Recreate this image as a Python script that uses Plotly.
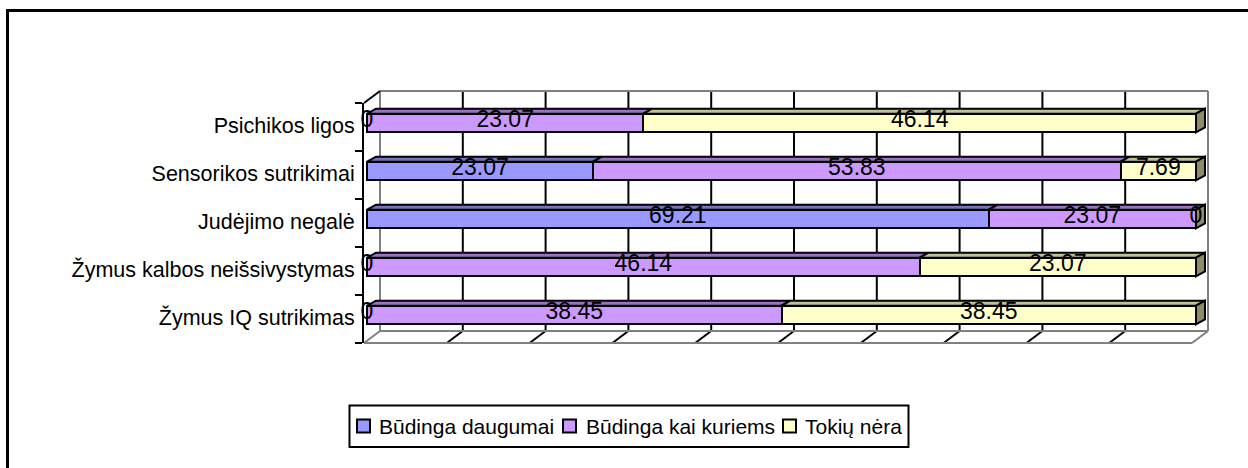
"""
Stacked 100% bar chart with a hand-made 3D look (walls, floor, bar tops)
"""

import numpy as np
import plotly.graph_objects as go

categories = [
    "Žymus IQ sutrikimas",
    "Žymus kalbos neišsivystymas",
    "Judėjimo negalė",
    "Sensorikos sutrikimai",
    "Psichikos ligos",
]
series_names = ["Būdinga daugumai", "Būdinga kai kuriems", "Tokių nėra"]
daugumai = [0, 0, 69.21, 23.07, 0]
kai_kuriems = [38.45, 46.14, 23.07, 53.83, 23.07]
nera = [38.45, 23.07, 0, 7.69, 46.14]
axis_ticks = [0, 10, 20, 30, 40, 50, 60, 70, 80, 90, 100]

front_colors = ["#9999FF", "#CC99FF", "#FFFFCC"]
top_colors = ["#7373BF", "#9973BF", "#BFBF99"]
side_color = "#8C8C66"
wall_color = "#808080"
FONT = "Liberation Sans"

# plot area in page pixels
LEFT, RIGHT, TOP, BOTTOM = 364, 1215, 103, 343
ROW_PX = (BOTTOM - TOP) / len(categories)
UNIT_PX = 8.29  # pixels per percent
BAR_ZERO_PX = 367
BAR_SHIFT = 4 / ROW_PX  # bars sit a little above the row centre
BAR_WIDTH = 0.39
DEPTH_X = 9 / UNIT_PX
DEPTH_Y = 5 / ROW_PX
LABEL_SHIFT = 2 / ROW_PX


def paper_x(px):
    return (px - LEFT) / (RIGHT - LEFT)


def paper_y(px):
    return (BOTTOM - px) / (BOTTOM - TOP)


def line(x0, y0, x1, y1, color, width=2):
    return dict(
        type="line",
        xref="paper",
        yref="paper",
        x0=paper_x(x0),
        y0=paper_y(y0),
        x1=paper_x(x1),
        y1=paper_y(y1),
        line=dict(color=color, width=width),
        layer="below",
    )


def rect(x0, y0, x1, y1, fill, width=2):
    return dict(
        type="rect",
        xref="paper",
        yref="paper",
        x0=paper_x(x0),
        y0=paper_y(y0),
        x1=paper_x(x1),
        y1=paper_y(y1),
        fillcolor=fill,
        line=dict(color="black", width=width),
        layer="below",
    )


values = np.array([daugumai, kai_kuriems, nera])
shares = values / values.sum(axis=0) * 100
starts = np.vstack([np.zeros(len(categories)), np.cumsum(shares, axis=0)[:-1]])
ends = starts + shares

fig = go.Figure()

for name, vals, color in zip(series_names, values, front_colors):
    fig.add_trace(
        go.Bar(
            y=categories,
            x=vals,
            orientation="h",
            name=name,
            width=BAR_WIDTH,
            offset=-BAR_WIDTH / 2 + BAR_SHIFT,
            marker=dict(color=color, line=dict(color="black", width=2)),
            showlegend=False,
        )
    )

# bar tops and end caps, on a numeric axis laid over the category one
for s, top_color in enumerate(top_colors):
    for row in range(len(categories)):
        if shares[s, row] == 0:
            continue
        x0, x1 = starts[s, row], ends[s, row]
        y_top = row + BAR_SHIFT + BAR_WIDTH / 2
        fig.add_trace(
            go.Scatter(
                x=[x0, x1, x1 + DEPTH_X, x0 + DEPTH_X, x0],
                y=[y_top, y_top, y_top + DEPTH_Y, y_top + DEPTH_Y, y_top],
                yaxis="y2",
                mode="lines",
                fill="toself",
                fillcolor=top_color,
                line=dict(color="black", width=2),
                showlegend=False,
                hoverinfo="skip",
                cliponaxis=False,
            )
        )

for row in range(len(categories)):
    y_top = row + BAR_SHIFT + BAR_WIDTH / 2
    y_low = y_top - BAR_WIDTH
    fig.add_trace(
        go.Scatter(
            x=[100, 100 + DEPTH_X, 100 + DEPTH_X, 100, 100],
            y=[y_top, y_top + DEPTH_Y, y_low + DEPTH_Y, y_low, y_top],
            yaxis="y2",
            mode="lines",
            fill="toself",
            fillcolor=side_color,
            line=dict(color="black", width=2),
            showlegend=False,
            hoverinfo="skip",
            cliponaxis=False,
        )
    )

# value labels centred on each segment, zeros included
for s in range(len(series_names)):
    fig.add_trace(
        go.Scatter(
            x=(starts[s] + ends[s]) / 2,
            y=np.arange(len(categories)) + BAR_SHIFT + LABEL_SHIFT,
            yaxis="y2",
            mode="text",
            text=[f"{v:g}" for v in values[s]],
            textposition="middle center",
            textfont=dict(family=FONT, size=23, color="black"),
            showlegend=False,
            hoverinfo="skip",
            cliponaxis=False,
        )
    )

# back wall, floor and side wall
BACK_L, BACK_R, BACK_T, BACK_B = 380, 1208, 91, 331
FRONT_R = 1192
shapes = []
for t in axis_ticks[1:-1]:
    back = BACK_L + t / 100 * (BACK_R - BACK_L)
    front = LEFT + t / 100 * (FRONT_R - LEFT)
    shapes.append(line(back, BACK_T, back, BACK_B, "black"))
    shapes.append(line(back, BACK_B, front, BOTTOM, "black"))
shapes += [
    line(BACK_L, BACK_T, BACK_R, BACK_T, wall_color),
    line(BACK_L, BACK_T, BACK_L, BACK_B, wall_color),
    line(BACK_R, BACK_T, BACK_R, BACK_B, wall_color),
    line(BACK_L, BACK_B, BACK_R, BACK_B, wall_color),
    line(LEFT, BOTTOM, FRONT_R, BOTTOM, wall_color),
    line(FRONT_R, BOTTOM, BACK_R, BACK_B, wall_color),
    line(LEFT, BOTTOM, BACK_L, BACK_B, wall_color),
    line(LEFT, TOP, BACK_L, BACK_T, "black"),
]
# frame of the picture runs off the right and bottom edges
shapes.append(rect(7.5, 480, 1260, 10.5, "rgba(0,0,0,0)", width=3))

# legend box, laid out by hand to get the tight spacing
LEGEND_Y = 426
legend_swatch_x = [357, 563, 783]
legend_text_x = [378, 585, 804]
shapes.append(rect(349.5, 405.5, 908.5, 447, "white"))
annotations = []
for name, color, sx, tx in zip(series_names, front_colors, legend_swatch_x, legend_text_x):
    shapes.append(rect(sx, LEGEND_Y - 6.5, sx + 13, LEGEND_Y + 6.5, color))
    annotations.append(
        dict(
            xref="paper",
            yref="paper",
            x=paper_x(tx),
            y=paper_y(LEGEND_Y),
            text=name,
            showarrow=False,
            xanchor="left",
            yanchor="middle",
            font=dict(family=FONT, size=21, color="black"),
            borderpad=0,
        )
    )

y_range = [-0.5, len(categories) - 0.5]
fig.update_layout(
    width=1248,
    height=468,
    autosize=False,
    margin=dict(l=LEFT, r=1248 - RIGHT, t=TOP, b=468 - BOTTOM, autoexpand=False),
    paper_bgcolor="white",
    plot_bgcolor="rgba(0,0,0,0)",
    barmode="stack",
    barnorm="percent",
    showlegend=False,
    hovermode=False,
    font=dict(family=FONT, size=21, color="black"),
    shapes=shapes,
    annotations=annotations,
    xaxis=dict(
        range=[(LEFT - BAR_ZERO_PX) / UNIT_PX, (RIGHT - BAR_ZERO_PX) / UNIT_PX],
        showgrid=False,
        zeroline=False,
        showticklabels=False,
        ticks="",
    ),
    yaxis=dict(
        type="category",
        categoryorder="array",
        categoryarray=categories,
        range=y_range,
        showgrid=False,
        showline=True,
        linecolor="black",
        linewidth=2,
        ticks="outside",
        tickson="boundaries",
        ticklen=7,
        tickwidth=2,
        tickcolor="black",
        ticklabelshift=-2,
        ticklabelstandoff=3,
        tickfont=dict(family=FONT, size=21.5, color="black"),
    ),
    yaxis2=dict(
        overlaying="y",
        range=y_range,
        visible=False,
    ),
)

fig.write_html(
    "out.html",
    post_script="document.body.style.margin = '0';",
    config=dict(displayModeBar=False),
)
